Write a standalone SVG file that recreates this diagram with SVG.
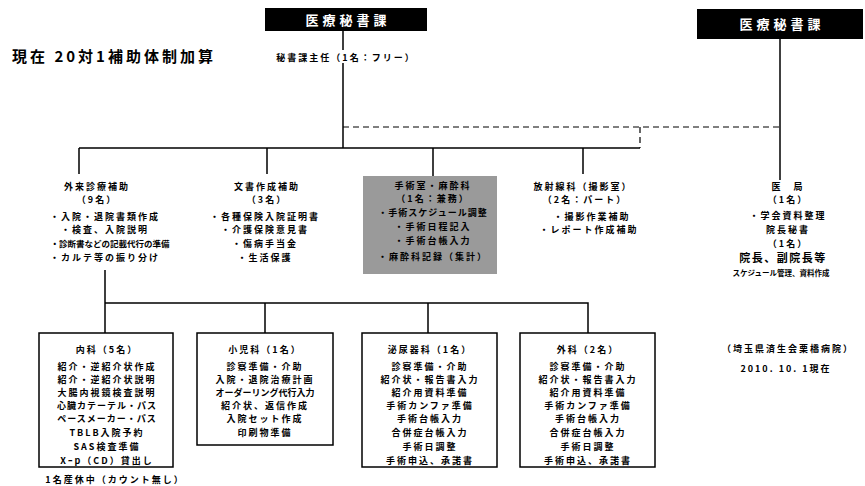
<svg xmlns="http://www.w3.org/2000/svg" width="865" height="486" viewBox="0 0 865 486">
<style>
text{font-family:"Noto Sans CJK JP","Noto Sans CJK SC",sans-serif;font-weight:bold;fill:#000}
.t{font-size:9px;text-anchor:middle;letter-spacing:2px}
.hd{font-size:13px;fill:#fff;text-anchor:middle;letter-spacing:4px}
.ln{stroke:#000;stroke-width:1.5;fill:none}
.ds{stroke:#000;stroke-width:1.2;stroke-dasharray:6,4;fill:none}
.bx{fill:#fff;stroke:#000;stroke-width:1.5}
</style>
<rect width="865" height="486" fill="#fff"/>
<text x="12" y="62" style="font-size:15px;letter-spacing:3px">現在 20対1補助体制加算</text>
<g id="connectors">
<path class="ln" d="M343 31V50M343 63V148M79 148H640M79 148V174M267 148V174M433 148V176M583 148V174"/>
<path class="ds" d="M343 127H780M640 127V148"/>
<path class="ln" d="M780 39V180"/>
<path class="ln" d="M105 270V333M105 303H588V333M265 303V333M428 303V333"/>
</g>
<g id="hdr1"><rect x="265" y="8" width="162" height="23" fill="#000"/><text class="hd" x="348" y="25">医療秘書課</text></g>
<g id="hdr2"><rect x="697" y="9" width="166" height="30" fill="#000"/><text class="hd" x="782" y="29">医療秘書課</text></g>
<g id="chief"><text class="t" x="346" y="61">秘書課主任（1名：フリー）</text></g>
<g id="gairai">
<text class="t" x="97" y="190">外来診療補助</text>
<text class="t" x="97" y="203">（9名）</text>
<text class="t" x="105" y="220">・入院・退院書類作成</text>
<text class="t" x="105" y="233">・検査、入院説明</text>
<text class="t" x="110" y="247" style="letter-spacing:0;font-size:8.5px">・診断書などの記載代行の準備</text>
<text class="t" x="105" y="261">・カルテ等の振り分け</text>
</g>
<g id="bunsho">
<text class="t" x="267" y="190">文書作成補助</text>
<text class="t" x="267" y="203">（3名）</text>
<text class="t" x="265" y="220">・各種保険入院証明書</text>
<text class="t" x="265" y="233">・介護保険意見書</text>
<text class="t" x="265" y="247">・傷病手当金</text>
<text class="t" x="265" y="261">・生活保護</text>
</g>
<g id="shujutsu">
<rect x="363" y="176" width="134" height="98" fill="#9a9a9a"/>
<text class="t" x="433" y="189">手術室・麻酔科</text>
<text class="t" x="433" y="202">（1名：兼務）</text>
<text class="t" x="433" y="216" style="letter-spacing:1px">・手術スケジュール調整</text>
<text class="t" x="433" y="230">・手術日程記入</text>
<text class="t" x="433" y="244">・手術台帳入力</text>
<text class="t" x="433" y="260">・麻酔科記録（集計）</text>
</g>
<g id="hoshasen">
<text class="t" x="583" y="190">放射線科（撮影室）</text>
<text class="t" x="585" y="203">（2名：パート）</text>
<text class="t" x="592" y="220">・撮影作業補助</text>
<text class="t" x="589" y="233">・レポート作成補助</text>
</g>
<g id="ikyoku">
<text class="t" x="788" y="190">医　局</text>
<text class="t" x="788" y="203">（1名）</text>
<text class="t" x="788" y="219">・学会資料整理</text>
<text class="t" x="788" y="233">院長秘書</text>
<text class="t" x="788" y="247">（1名）</text>
<text class="t" x="783" y="262" style="font-size:11px;letter-spacing:1.5px">院長、副院長等</text>
<text class="t" x="781" y="276" style="font-size:7.5px;letter-spacing:0">スケジュール管理、資料作成</text>
</g>
<g id="naika">
<rect class="bx" x="39" y="333" width="134" height="134"/>
<text class="t" x="107" y="353">内科（5名）</text>
<text class="t" x="107" y="370">紹介・逆紹介状作成</text>
<text class="t" x="107" y="383">紹介・逆紹介状説明</text>
<text class="t" x="107" y="396">大腸内視鏡検査説明</text>
<text class="t" x="107" y="409" style="letter-spacing:1px">心臓カテーテル・パス</text>
<text class="t" x="107" y="422" style="letter-spacing:1px">ペースメーカー・パス</text>
<text class="t" x="107" y="436">TBLB入院予約</text>
<text class="t" x="107" y="450">SAS検査準備</text>
<text class="t" x="107" y="464">Xｰp（CD）貸出し</text>
<text class="t" x="115" y="483">1名産休中（カウント無し）</text>
</g>
<g id="shonika">
<rect class="bx" x="197" y="333" width="136" height="112"/>
<text class="t" x="265" y="353">小児科（1名）</text>
<text class="t" x="265" y="370">診察準備・介助</text>
<text class="t" x="265" y="383">入院・退院治療計画</text>
<text class="t" x="265" y="396" style="letter-spacing:0">オーダーリング代行入力</text>
<text class="t" x="265" y="409">紹介状、返信作成</text>
<text class="t" x="265" y="422">入院セット作成</text>
<text class="t" x="265" y="436">印刷物準備</text>
</g>
<g id="hinyoki">
<rect class="bx" x="362" y="333" width="135" height="134"/>
<text class="t" x="430" y="353">泌尿器科（1名）</text>
<text class="t" x="430" y="370">診察準備・介助</text>
<text class="t" x="430" y="383">紹介状・報告書入力</text>
<text class="t" x="430" y="396">紹介用資料準備</text>
<text class="t" x="430" y="409">手術カンファ準備</text>
<text class="t" x="430" y="422">手術台帳入力</text>
<text class="t" x="430" y="436">合併症台帳入力</text>
<text class="t" x="430" y="450">手術日調整</text>
<text class="t" x="430" y="464">手術申込、承諾書</text>
</g>
<g id="geka">
<rect class="bx" x="520" y="333" width="135" height="134"/>
<text class="t" x="588" y="353">外科（2名）</text>
<text class="t" x="588" y="370">診察準備・介助</text>
<text class="t" x="588" y="383">紹介状・報告書入力</text>
<text class="t" x="588" y="396">紹介用資料準備</text>
<text class="t" x="588" y="409">手術カンファ準備</text>
<text class="t" x="588" y="422">手術台帳入力</text>
<text class="t" x="588" y="436">合併症台帳入力</text>
<text class="t" x="588" y="450">手術日調整</text>
<text class="t" x="588" y="464">手術申込、承諾書</text>
</g>
<g id="note">
<text class="t" x="788" y="352">（埼玉県済生会栗橋病院）</text>
<text class="t" x="786" y="372">2010. 10. 1現在</text>
</g>
</svg>
